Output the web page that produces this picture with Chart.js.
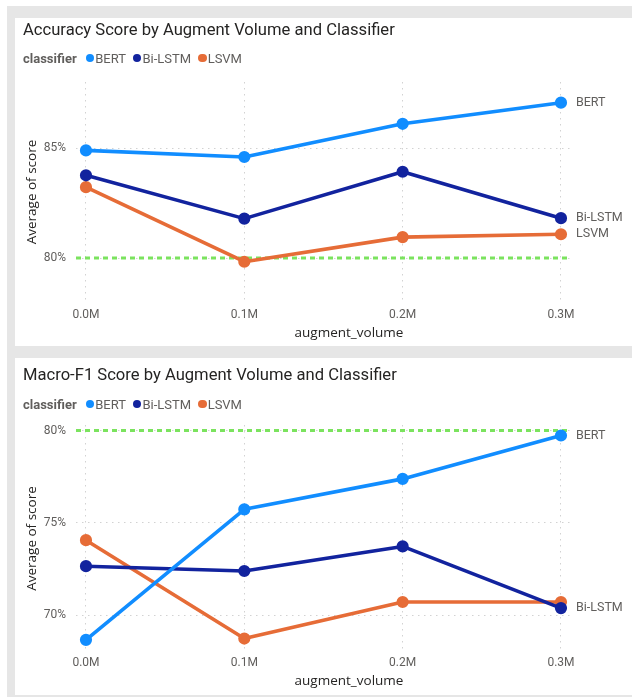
<!DOCTYPE html>
<html>
<head>
<meta charset="utf-8">
<script src="https://cdn.jsdelivr.net/npm/chart.js@4.4.1/dist/chart.umd.min.js"></script>
<style>
  html, body { margin: 0; padding: 0; background: #ffffff; }
  body { width: 632px; height: 697px; position: relative; overflow: hidden; font-family: Roboto, 'Open Sans', sans-serif; }
  #frame { position: absolute; left: 7px; top: 6px; width: 625px; height: 691px; background: #e6e6e6; }
  .panel { position: absolute; left: 15px; width: 617px; background: #ffffff; }
  .panel canvas { position: absolute; left: 0; top: 0; }
  .title { position: absolute; left: 8px; font-size: 16.6px; line-height: 20px; color: #252423; white-space: nowrap; z-index: 2; }
  .legend { position: absolute; left: 8px; height: 16px; font-size: 13px; color: #605E5C; display: flex; align-items: center; white-space: nowrap; z-index: 2; }
  .legend b { color: #605E5C; margin-right: 9px; }
  .legend .dot { width: 8.5px; height: 8.5px; border-radius: 50%; margin-right: 1px; }
  .legend .item { display: flex; align-items: center; margin-right: 7px; }
</style>
</head>
<body>
<div id="frame"></div>

<div class="panel" id="p1" style="top:18px;height:328px;">
  <div class="title" style="top:2px;">Accuracy Score by Augment Volume and Classifier</div>
  <div class="legend" id="lg1" style="top:32px;"></div>
  <canvas id="c1" width="617" height="328"></canvas>
</div>

<div class="panel" id="p2" style="top:358px;height:337px;">
  <div class="title" style="top:7px;">Macro-F1 Score by Augment Volume and Classifier</div>
  <div class="legend" id="lg2" style="top:38px;"></div>
  <canvas id="c2" width="617" height="337"></canvas>
</div>

<script>
// augment volume categories on the x axis
const categories = ['0.0M', '0.1M', '0.2M', '0.3M'];
const classifiers = ['BERT', 'Bi-LSTM', 'LSVM'];
const classifierColors = ['#118DFF', '#12239E', '#E66C37'];

// average accuracy (%) per classifier
const accBert   = [84.89, 84.59, 86.10, 87.06];
const accBiLstm = [83.76, 81.79, 83.92, 81.81];
const accLsvm   = [83.22, 79.83, 80.95, 81.08];

// average macro-F1 (%) per classifier
const f1Bert   = [68.66, 75.73, 77.38, 79.73];
const f1BiLstm = [72.65, 72.39, 73.72, 70.38];
const f1Lsvm   = [74.06, 68.73, 70.71, 70.71];

// y axis ticks and ranges
const accTicks = [80, 85];
const f1Ticks = [70, 75, 80];
const accRange = [78, 88];
const f1Range = [68, 80.3];

// constant target line
const targetScore = 80;

// which series get a label at the end of the line
const accEndLabels = ['BERT', 'Bi-LSTM', 'LSVM'];
const f1EndLabels = ['BERT', 'Bi-LSTM'];

const textGrey = '#605E5C';
const textDark = '#252423';

function buildLegend(id) {
  const el = document.getElementById(id);
  const head = document.createElement('b');
  head.textContent = 'classifier';
  el.appendChild(head);
  classifiers.forEach((name, i) => {
    const item = document.createElement('span');
    item.className = 'item';
    const dot = document.createElement('span');
    dot.className = 'dot';
    dot.style.background = classifierColors[i];
    const txt = document.createElement('span');
    txt.textContent = name;
    item.appendChild(dot);
    item.appendChild(txt);
    el.appendChild(item);
  });
}
buildLegend('lg1');
buildLegend('lg2');

const targetLine = {
  id: 'targetLine',
  beforeDatasetsDraw(chart, args, opts) {
    const { ctx, chartArea } = chart;
    const y = chart.scales.y.getPixelForValue(opts.value);
    ctx.save();
    ctx.strokeStyle = opts.color;
    ctx.lineWidth = 3;
    ctx.setLineDash([5, 4]);
    ctx.beginPath();
    ctx.moveTo(chartArea.left, y);
    ctx.lineTo(chartArea.right, y);
    ctx.stroke();
    ctx.restore();
  }
};

const endLabels = {
  id: 'endLabels',
  afterDatasetsDraw(chart, args, opts) {
    const { ctx } = chart;
    ctx.save();
    ctx.font = '12.5px Roboto, sans-serif';
    ctx.fillStyle = textGrey;
    ctx.textBaseline = 'middle';
    ctx.textAlign = 'left';
    chart.data.datasets.forEach((ds, i) => {
      if (!opts.names.includes(ds.label)) return;
      const pts = chart.getDatasetMeta(i).data;
      const last = pts[pts.length - 1];
      ctx.fillText(ds.label, last.x + 15, last.y);
    });
    ctx.restore();
  }
};

const xTitle = {
  id: 'xTitle',
  afterDraw(chart, args, opts) {
    const { ctx } = chart;
    ctx.save();
    ctx.font = '13.5px "Open Sans", sans-serif';
    ctx.fillStyle = textDark;
    ctx.textAlign = 'center';
    ctx.textBaseline = 'middle';
    ctx.fillText(opts.text, opts.x, opts.y);
    ctx.restore();
  }
};

function makeChart(canvasId, series, yTicks, yRange, labelNames, geo) {
  const datasets = series.map((vals, i) => ({
    label: classifiers[i],
    data: vals.map((v, k) => ({ x: k, y: v })),
    borderColor: classifierColors[i],
    backgroundColor: classifierColors[i],
    borderWidth: 3.6,
    pointRadius: 4.3,
    pointHoverRadius: 4.3,
    borderJoinStyle: 'round',
    borderCapStyle: 'round',
    tension: 0,
    clip: false
  }));
  return new Chart(document.getElementById(canvasId), {
    type: 'line',
    data: { datasets },
    plugins: [targetLine, endLabels, xTitle],
    options: {
      responsive: false,
      animation: false,
      devicePixelRatio: 1,
      layout: { padding: { left: 0, top: geo.top, right: 62, bottom: 0 } },
      plugins: {
        legend: { display: false },
        tooltip: { enabled: false },
        targetLine: { value: targetScore, color: '#7BE35E' },
        endLabels: { names: labelNames },
        xTitle: { text: 'augment_volume', x: 334, y: geo.xTitleY }
      },
      scales: {
        x: {
          type: 'linear',
          min: -0.063,
          max: 3.057,
          afterBuildTicks: (s) => { s.ticks = categories.map((c, i) => ({ value: i })); },
          afterFit: (s) => { s.height = geo.xAxisHeight; },
          ticks: {
            callback: (v) => categories[v],
            autoSkip: false,
            maxRotation: 0,
            padding: geo.xTickPad,
            color: textGrey,
            font: { family: 'Roboto', size: 12 }
          },
          grid: { color: '#D2D2D2', lineWidth: 1, drawTicks: false },
          border: { display: false, dash: [1.5, 4.5] }
        },
        y: {
          min: yRange[0],
          max: yRange[1],
          afterBuildTicks: (s) => { s.ticks = yTicks.map((v) => ({ value: v })); },
          afterFit: (s) => { s.width = 61; },
          ticks: {
            callback: (v) => v + '%',
            padding: 10,
            color: textGrey,
            font: { family: 'Roboto', size: 12 }
          },
          grid: { color: '#D2D2D2', lineWidth: 1, drawTicks: false },
          border: { display: false, dash: [1.5, 4.5] },
          title: {
            display: true,
            text: 'Average of score',
            color: textDark,
            font: { family: 'Open Sans', size: 13.5 },
            padding: { top: 9.4, bottom: 0 }
          }
        }
      }
    }
  });
}

makeChart('c1', [accBert, accBiLstm, accLsvm], accTicks, accRange, accEndLabels,
  { top: 64, xAxisHeight: 44, xTickPad: 6, xTitleY: 315 });
makeChart('c2', [f1Bert, f1BiLstm, f1Lsvm], f1Ticks, f1Range, f1EndLabels,
  { top: 67, xAxisHeight: 43, xTickPad: 3.5, xTitleY: 323 });
</script>
</body>
</html>
